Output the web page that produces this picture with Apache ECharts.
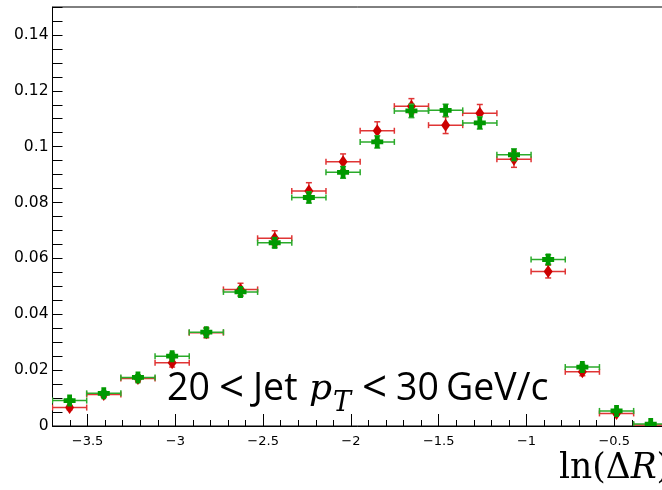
<!DOCTYPE html>
<html>
<head>
<meta charset="utf-8">
<script src="https://cdn.jsdelivr.net/npm/echarts@6/dist/echarts.min.js"></script>
<style>
  html, body { margin: 0; padding: 0; background: #fff; }
  #chart { width: 662px; height: 490px; }
</style>
</head>
<body>
<div id="chart"></div>
<script>
// ---- data ----
const binCenters = [-3.6026, -3.4079, -3.2132, -3.0184, -2.8237, -2.6289, -2.4342, -2.2395, -2.0447,
                    -1.8500, -1.6553, -1.4605, -1.2658, -1.0711, -0.8763, -0.6816, -0.4868, -0.2921];
const binHalfWidth = 0.0974;
const redValues   = [0.0066, 0.0113, 0.0170, 0.0226, 0.0334, 0.0489, 0.0672, 0.0841, 0.0946,
                     0.1057, 0.1145, 0.1077, 0.1120, 0.0955, 0.0553, 0.0194, 0.0045, 0.0004];
const redErrors   = [0.0008, 0.0010, 0.0012, 0.0015, 0.0018, 0.0022, 0.0027, 0.0030, 0.0028,
                     0.0032, 0.0027, 0.0030, 0.0031, 0.0029, 0.0023, 0.0014, 0.0007, 0.0003];
const greenValues = [0.0091, 0.0117, 0.0174, 0.0250, 0.0336, 0.0480, 0.0656, 0.0818, 0.0908,
                     0.1017, 0.1128, 0.1130, 0.1085, 0.0971, 0.0596, 0.0211, 0.0054, 0.0007];
const greenErrors = [0.0006, 0.0008, 0.0009, 0.0011, 0.0013, 0.0016, 0.0018, 0.0020, 0.0021,
                     0.0022, 0.0024, 0.0022, 0.0022, 0.0021, 0.0017, 0.0010, 0.0005, 0.0002];

const chart = echarts.init(document.getElementById('chart'), null, { renderer: 'canvas' });

function makeRender(kind, barColor, markerColor) {
  return function (params, api) {
    const x = api.value(0), y = api.value(1), e = api.value(2);
    const c = api.coord([x, y]);
    const pL = api.coord([x - binHalfWidth, y]);
    const pR = api.coord([x + binHalfWidth, y]);
    const pT = api.coord([x, y + e]);
    const pB = api.coord([x, y - e]);
    const ls = { stroke: barColor, lineWidth: 1.5 };
    const children = [
      { type: 'line', shape: { x1: pL[0], y1: c[1], x2: pR[0], y2: c[1] }, style: ls },
      { type: 'line', shape: { x1: pL[0], y1: c[1] - 3, x2: pL[0], y2: c[1] + 3 }, style: ls },
      { type: 'line', shape: { x1: pR[0], y1: c[1] - 3, x2: pR[0], y2: c[1] + 3 }, style: ls },
      { type: 'line', shape: { x1: c[0], y1: pT[1], x2: c[0], y2: pB[1] }, style: ls },
      { type: 'line', shape: { x1: c[0] - 3, y1: pT[1], x2: c[0] + 3, y2: pT[1] }, style: ls },
      { type: 'line', shape: { x1: c[0] - 3, y1: pB[1], x2: c[0] + 3, y2: pB[1] }, style: ls }
    ];
    let pts;
    if (kind === 'diamond') {
      pts = [[c[0], c[1] - 6.5], [c[0] + 4.5, c[1]], [c[0], c[1] + 6.5], [c[0] - 4.5, c[1]]];
    } else {
      const a = 6, t = 2.4;
      pts = [[c[0] - t, c[1] - a], [c[0] + t, c[1] - a], [c[0] + t, c[1] - t], [c[0] + a, c[1] - t],
             [c[0] + a, c[1] + t], [c[0] + t, c[1] + t], [c[0] + t, c[1] + a], [c[0] - t, c[1] + a],
             [c[0] - t, c[1] + t], [c[0] - a, c[1] + t], [c[0] - a, c[1] - t], [c[0] - t, c[1] - t]];
    }
    children.push({ type: 'polygon', shape: { points: pts }, style: { fill: markerColor } });
    return { type: 'group', children: children };
  };
}

const redData = binCenters.map((x, i) => [x, redValues[i], redErrors[i]]);
const greenData = binCenters.map((x, i) => [x, greenValues[i], greenErrors[i]]);

const axisLineStyle = { color: '#000', width: 1 };
const fmtX = v => (Math.abs(v) < 1e-9 ? '0' : (v < 0 ? '\u2212' : '') + String(Math.round(Math.abs(v) * 10) / 10));

const textStyleBase = { fill: '#000', textAlign: 'left', textVerticalAlign: 'bottom' };
const option = {
  animation: false,
  backgroundColor: '#fff',
  grid: [
    { left: 52.5, right: -40, top: 7, bottom: 64, show: true, borderColor: '#000', borderWidth: 1,
      backgroundColor: 'transparent', outerBoundsMode: 'none', containLabel: false },
    { left: 87.6, right: -40, top: 7, bottom: 64, show: false, outerBoundsMode: 'none', containLabel: false }
  ],
  xAxis: [
    { type: 'value', gridIndex: 0, min: -3.7, max: 0, interval: 0.1,
      axisLine: { show: true, onZero: false, lineStyle: axisLineStyle },
      axisTick: { show: true, inside: true, length: 6, lineStyle: axisLineStyle },
      axisLabel: { show: false }, splitLine: { show: false } },
    { type: 'value', gridIndex: 1, min: -3.5, max: 0, interval: 0.5,
      axisLine: { show: false },
      axisTick: { show: true, inside: true, length: 12, lineStyle: axisLineStyle },
      axisLabel: { show: true, formatter: fmtX, fontFamily: 'DejaVu Sans', fontSize: 13, color: '#000', margin: 9 },
      splitLine: { show: false } }
  ],
  yAxis: [
    { type: 'value', gridIndex: 0, min: 0, max: 0.15, interval: 0.005,
      axisLine: { show: true, onZero: false, lineStyle: axisLineStyle },
      axisTick: { show: true, inside: true, length: 10, lineStyle: axisLineStyle },
      axisLabel: { show: false }, splitLine: { show: false } },
    { type: 'value', gridIndex: 0, position: 'left', offset: 0, min: 0, max: 0.15, interval: 0.02,
      axisLine: { show: false },
      axisTick: { show: true, inside: true, length: 18, lineStyle: axisLineStyle },
      axisLabel: { show: true, showMaxLabel: false, fontFamily: 'DejaVu Sans', fontSize: 15.5, color: '#000', margin: 4,
                   formatter: v => (v > 0.145 ? '' : String(Math.round(v * 100) / 100)) },
      splitLine: { show: false } },
    { type: 'value', gridIndex: 1, min: 0, max: 0.15, show: false }
  ],
  series: [
    { type: 'custom', name: 'red', xAxisIndex: 0, yAxisIndex: 0, clip: true, data: redData,
      encode: { x: 0, y: 1 }, renderItem: makeRender('diamond', '#e03535', '#cc0000') },
    { type: 'custom', name: 'green', xAxisIndex: 0, yAxisIndex: 0, clip: true, data: greenData,
      encode: { x: 0, y: 1 }, renderItem: makeRender('cross', '#2aaa2a', '#009900') }
  ],
  graphic: [
    { type: 'text', x: 167, y: 408, style: Object.assign({ text: '20', font: '37.5px "Open Sans"' }, textStyleBase) },
    { type: 'text', x: 219, y: 411, style: Object.assign({ text: '<', font: '44px "Open Sans"' }, textStyleBase) },
    { type: 'text', x: 253, y: 408, style: Object.assign({ text: 'Jet', font: '37.5px "Open Sans"' }, textStyleBase) },
    { type: 'text', x: 309, y: 408, style: Object.assign({ text: 'p', font: 'italic 36px "DejaVu Serif"' }, textStyleBase) },
    { type: 'text', x: 333, y: 417, style: Object.assign({ text: 'T', font: 'italic 27px "DejaVu Serif"' }, textStyleBase) },
    { type: 'text', x: 362, y: 411, style: Object.assign({ text: '<', font: '44px "Open Sans"' }, textStyleBase) },
    { type: 'text', x: 396, y: 408, style: Object.assign({ text: '30', font: '37.5px "Open Sans"' }, textStyleBase) },
    { type: 'text', x: 446, y: 408, style: Object.assign({ text: 'GeV/c', font: '37.5px "Open Sans"' }, textStyleBase) },
    { type: 'text', x: 559, y: 487, style: { text: '{a|ln(Δ}{b|R}{a|)}', rich: {
        a: { font: '34.5px "DejaVu Serif"', fill: '#000' },
        b: { font: 'italic 34.5px "DejaVu Serif"', fill: '#000' } }, textAlign: 'left', textVerticalAlign: 'bottom' } }
  ]
};
chart.setOption(option);
</script>
</body>
</html>
